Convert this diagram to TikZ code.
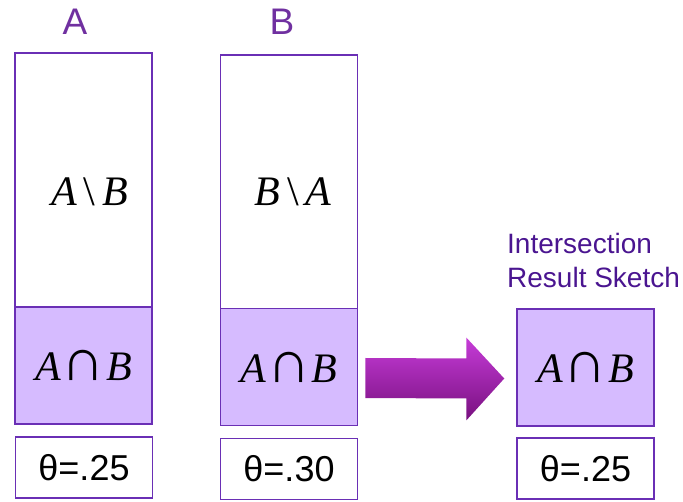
\documentclass[tikz,border=0pt]{standalone}
\usepackage{fontspec}
\setmainfont{Liberation Serif}
\newfontfamily\sansf{Liberation Sans}
\usetikzlibrary{calc}
\definecolor{boxline}{HTML}{6A2FB5}
\definecolor{capfill}{HTML}{D6BBFF}
\definecolor{setpurple}{HTML}{7030A0}
\definecolor{notepurple}{HTML}{4A1590}
\definecolor{arrowtop}{HTML}{C63CD8}
\definecolor{arrowbot}{HTML}{78107F}
\tikzset{
  part/.style={draw=boxline, line width=1.5pt, minimum width=137pt, inner sep=0pt},
  diffbox/.style={part, fill=white, minimum height=254pt},
  capbox/.style={part, fill=capfill, minimum height=117pt, font=\fontsize{42}{50}\selectfont},
  thetabox/.style={part, fill=white, minimum height=61pt, font=\sansf\fontsize{36}{43}\selectfont},
  setlabel/.style={text=setpurple, font=\sansf\fontsize{37}{44}\selectfont},
  difftext/.style={font=\fontsize{42}{50}\selectfont}
}
\newcommand{\capAB}{{\itshape A}\hspace{1pt}{\fontsize{60}{60}\selectfont ∩}\hspace{1pt}{\itshape B}}
\begin{document}
\begin{tikzpicture}[x=1pt,y=-1pt]
  \useasboundingbox (0,0) rectangle (683,502);
  \draw
    (75,21.5) node[setlabel] (labA){A}
    (282,21.5) node[setlabel] (labB){B}
    (83.5,180) node[diffbox] (topA){}
    (289,182) node[diffbox] (topB){}
    (83.5,365.5) node[capbox] (capA){\capAB}
    (289,367) node[capbox] (capB){\capAB}
    (585.5,367.5) node[capbox] (capR){\capAB}
    (84,467.5) node[thetabox] (thA){θ=.25}
    (289,469) node[thetabox] (thB){θ=.30}
    (585.5,468.5) node[thetabox] (thR){θ=.25};
  \node[difftext] (diffA) at ($(topA.center)+(6,12)$) {{\itshape A}\,\textbackslash\,{\itshape B}};
  \node[difftext] (diffB) at ($(topB.center)+(4,10)$) {{\itshape B}\,\textbackslash\,{\itshape A}};
  \node[anchor=west, inner sep=0pt, align=left, text=notepurple,
        font=\sansf\fontsize{28}{34}\selectfont] (note) at (507,260)
        {Intersection\\Result Sketch};
  % big arrow from B's intersection to the result
  \coordinate (arrS) at ($(capB.east)+(7,11)$);
  \coordinate (arrE) at ($(capR.west)+(-12,11)$);
  \shade[top color=arrowtop, bottom color=arrowbot]
    ($(arrS)+(0,-20)$) -- ($(arrE)+(-38,-20)$) -- ($(arrE)+(-38,-41)$)
    -- (arrE) -- ($(arrE)+(-38,42)$) -- ($(arrE)+(-38,20)$)
    -- ($(arrS)+(0,20)$) -- cycle;
\end{tikzpicture}
\end{document}
